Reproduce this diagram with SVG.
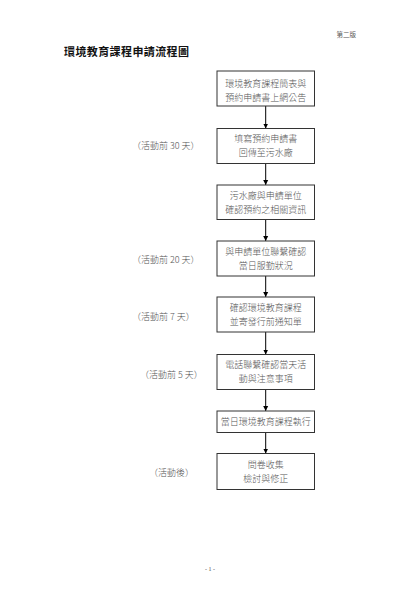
<svg xmlns="http://www.w3.org/2000/svg" width="420" height="593" viewBox="0 0 420 593">
<defs>
<marker id="ah" markerWidth="6" markerHeight="6" refX="5" refY="3" orient="auto" markerUnits="userSpaceOnUse">
<path d="M0,0.5 L5,3 L0,5.5 Z" fill="#000"/>
</marker>
<style>
.box{fill:#fff;stroke:#333;stroke-width:1}
.bt{font-family:"Noto Sans CJK TC","Noto Sans CJK SC",sans-serif;font-size:9px;fill:#555;text-anchor:middle;font-weight:300}
.lb{font-family:"Noto Sans CJK TC","Noto Sans CJK SC",sans-serif;font-size:9px;fill:#555;font-weight:300}
.cn{stroke:#000;stroke-width:1;fill:none;marker-end:url(#ah)}
</style>
</defs>
<rect width="420" height="593" fill="#fff"/>
<text x="356" y="36.5" font-family="Noto Sans CJK TC, sans-serif" font-size="6.5" fill="#555" text-anchor="end">第二版</text>
<text x="64" y="56" font-family="Noto Sans CJK TC, sans-serif" font-size="11" font-weight="bold" fill="#111" letter-spacing="0.4">環境教育課程申請流程圖</text>

<g id="connectors">
<line class="cn" x1="265.7" y1="106" x2="265.7" y2="128.5"/>
<line class="cn" x1="265.7" y1="163.5" x2="265.7" y2="185"/>
<line class="cn" x1="265.7" y1="219.5" x2="265.7" y2="241"/>
<line class="cn" x1="265.7" y1="276" x2="265.7" y2="297"/>
<line class="cn" x1="265.7" y1="332" x2="265.7" y2="354.5"/>
<line class="cn" x1="265.7" y1="389.5" x2="265.7" y2="411"/>
<line class="cn" x1="265.7" y1="432.5" x2="265.7" y2="453.5"/>
</g>

<g id="n1"><rect class="box" x="217" y="71" width="97.5" height="35"/>
<text class="bt" x="265.7" y="86.5">環境教育課程簡表與</text><text class="bt" x="265.7" y="100.5">預約申請書上網公告</text></g>
<g id="n2"><rect class="box" x="217" y="128.5" width="97.5" height="35"/>
<text class="bt" x="265.7" y="142">填寫預約申請書</text><text class="bt" x="265.7" y="156">回傳至污水廠</text></g>
<g id="n3"><rect class="box" x="217" y="185" width="97.5" height="34.5"/>
<text class="bt" x="265.7" y="198.5">污水廠與申請單位</text><text class="bt" x="265.7" y="212.5">確認預約之相關資訊</text></g>
<g id="n4"><rect class="box" x="217" y="241" width="97.5" height="35"/>
<text class="bt" x="265.7" y="254.5">與申請單位聯繫確認</text><text class="bt" x="265.7" y="268.5">當日服勤狀況</text></g>
<g id="n5"><rect class="box" x="217" y="297" width="97.5" height="35"/>
<text class="bt" x="265.7" y="310.5">確認環境教育課程</text><text class="bt" x="265.7" y="324.5">並寄發行前通知單</text></g>
<g id="n6"><rect class="box" x="217" y="354.5" width="97.5" height="35"/>
<text class="bt" x="265.7" y="368">電話聯繫確認當天活</text><text class="bt" x="265.7" y="382">動與注意事項</text></g>
<g id="n7"><rect class="box" x="217" y="411" width="97.5" height="21.5"/>
<text class="bt" x="265.7" y="425">當日環境教育課程執行</text></g>
<g id="n8"><rect class="box" x="217" y="453.5" width="97.5" height="36"/>
<text class="bt" x="265.7" y="468">問卷收集</text><text class="bt" x="265.7" y="482">檢討與修正</text></g>

<g id="labels">
<text class="lb" x="132" y="149">（活動前 30 天）</text>
<text class="lb" x="132" y="262.5">（活動前 20 天）</text>
<text class="lb" x="132" y="320">（活動前 7 天）</text>
<text class="lb" x="140" y="378">（活動前 5 天）</text>
<text class="lb" x="149" y="476">（活動後）</text>
</g>
<text x="210" y="571" font-family="Liberation Serif, serif" font-size="6" fill="#555" text-anchor="middle">- 1 -</text>
</svg>
